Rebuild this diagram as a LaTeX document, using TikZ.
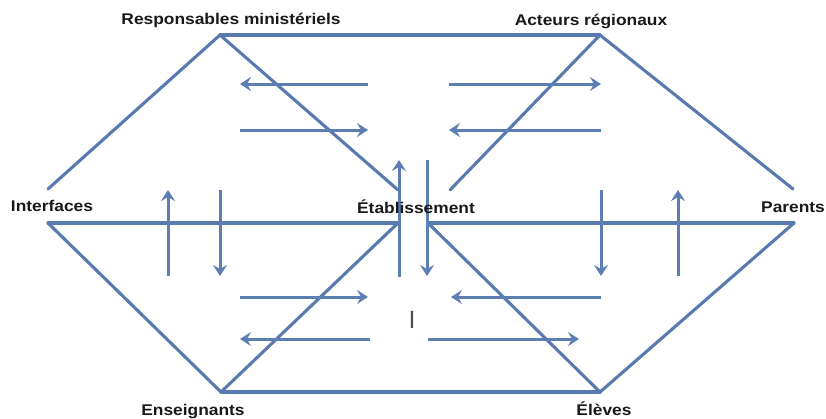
\documentclass[tikz,border=0pt]{standalone}
\usepackage{fontspec}
\setmainfont{Liberation Sans}
\usetikzlibrary{arrows.meta}
\definecolor{edgeblue}{RGB}{88,122,174}
\definecolor{arrowblue}{RGB}{92,126,178}
\definecolor{labelgray}{RGB}{25,25,25}
\newcommand{\widetext}[1]{\scalebox{1.12}[1]{#1}}
\tikzset{
  frameline/.style={draw=edgeblue, line width=3.1pt, line join=miter, line cap=round},
  flowarrow/.style={draw=arrowblue, line width=3pt, -{Stealth[length=11pt,width=14pt,inset=4pt]}},
  lbl/.style={inner sep=0pt, anchor=base, text=labelgray, font=\bfseries\fontsize{15.5}{18}\selectfont},
}
\begin{document}
\begin{tikzpicture}[x=1pt,y=-1pt]
\useasboundingbox (0,0) rectangle (826,418);
% vertices
\coordinate (R) at (220,35);
\coordinate (A) at (600,35);
\coordinate (IU) at (48,189);
\coordinate (EUL) at (398,190);
\coordinate (EUR) at (450,190);
\coordinate (PU) at (793,189);
\coordinate (IL) at (48,223);
\coordinate (ELL) at (398,223);
\coordinate (ELR) at (428,223);
\coordinate (PL) at (794,223);
\coordinate (EN) at (221,392);
\coordinate (EL) at (600,392);
% frame lines
\draw[frameline] (IU) -- (R) -- (EUL);
\draw[frameline] (R) -- (A);
\draw[frameline] (EUR) -- (A) -- (PU);
\draw[frameline] (IL) -- (ELL);
\draw[frameline] (ELR) -- (PL);
\draw[frameline] (IL) -- (EN) -- (ELL);
\draw[frameline] (EN) -- (EL);
\draw[frameline] (ELR) -- (EL) -- (PL);
% arrow end points
\coordinate (tl1a) at (368,84);  \coordinate (tl1b) at (240,84);
\coordinate (tl2a) at (240,130); \coordinate (tl2b) at (368,130);
\coordinate (tr1a) at (449,84);  \coordinate (tr1b) at (601,84);
\coordinate (tr2a) at (601,130); \coordinate (tr2b) at (449,130);
\coordinate (lv1a) at (168,276); \coordinate (lv1b) at (168,190);
\coordinate (lv2a) at (220,190); \coordinate (lv2b) at (220,276);
\coordinate (cv1a) at (399,277); \coordinate (cv1b) at (399,160);
\coordinate (cv2a) at (427,160); \coordinate (cv2b) at (427,276);
\coordinate (rv1a) at (601,190); \coordinate (rv1b) at (601,276);
\coordinate (rv2a) at (678,276); \coordinate (rv2b) at (678,190);
\coordinate (bl1a) at (240,297); \coordinate (bl1b) at (368,297);
\coordinate (bl2a) at (370,339); \coordinate (bl2b) at (240,339);
\coordinate (br1a) at (601,297); \coordinate (br1b) at (451,297);
\coordinate (br2a) at (428,339); \coordinate (br2b) at (579,339);
\foreach \s/\e in {tl1a/tl1b,tl2a/tl2b,tr1a/tr1b,tr2a/tr2b,lv1a/lv1b,lv2a/lv2b,cv1a/cv1b,cv2a/cv2b,rv1a/rv1b,rv2a/rv2b,bl1a/bl1b,bl2a/bl2b,br1a/br1b,br2a/br2b}
  \draw[flowarrow] (\s) -- (\e);
% labels
\node[lbl] (resp) at (231,24) {\widetext{Responsables ministériels}};
\node[lbl] (act) at (591,25) {\widetext{Acteurs régionaux}};
\node[lbl] (intf) at (52,211) {\widetext{Interfaces}};
\node[lbl] (etab) at (416,213) {\widetext{Établissement}};
\node[lbl] (par) at (793,212) {\widetext{Parents}};
\node[lbl] (ens) at (193,415) {\widetext{Enseignants}};
\node[lbl] (elv) at (604,415) {\widetext{Élèves}};
\node[inner sep=0pt, anchor=base, text={rgb,255:red,80;green,80;blue,80}, font=\fontsize{25}{28}\selectfont] (cur) at (412,328) {I};
\end{tikzpicture}
\end{document}
